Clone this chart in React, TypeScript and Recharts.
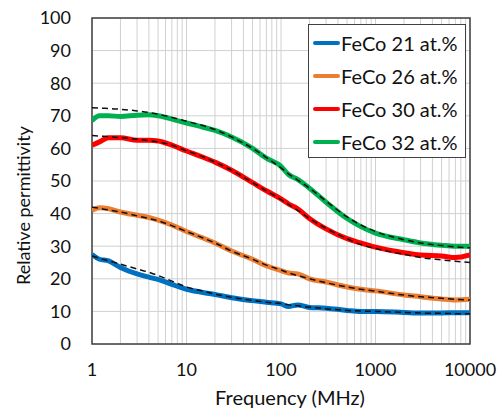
import {
  LineChart,
  Line,
  XAxis,
  YAxis,
  CartesianGrid,
  ReferenceArea,
} from "recharts";

const FONT = "Lato, 'Open Sans', sans-serif";

// frequency (MHz)
const freq = [
  1, 1.2, 1.5, 2, 3, 4, 5, 7, 10, 15, 20, 30, 50, 70, 100, 120, 150, 200, 300,
  500, 700, 1000, 2000, 3000, 5000, 7000, 10000,
];

// measured
const feco21 = [27.5, 26, 25.5, 23.5, 21.5, 20.5, 19.8, 18.3, 16.8, 15.8, 15.2, 14.2, 13.3, 12.8, 12.3, 11.5, 12, 11.2, 11, 10.3, 10, 10, 9.7, 9.5, 9.5, 9.6, 9.6];
const feco26 = [41, 41.8, 41.5, 40.5, 39.5, 38.8, 38, 36.5, 34.5, 32.5, 31, 28.5, 26, 24, 22.5, 21.8, 21.5, 20, 19, 17.5, 16.8, 16.3, 15, 14.5, 13.8, 13.5, 13.7];
const feco30 = [61, 62, 63.3, 63.3, 62.5, 62.5, 62.3, 61, 59.2, 57.3, 55.8, 53.3, 49.5, 47, 44.5, 43, 41.5, 38.5, 35.3, 32.3, 31, 29.7, 28, 27.3, 27, 26.5, 27.3];
const feco32 = [68.5, 70, 70, 69.8, 70.2, 70.3, 70, 69, 67.8, 66.5, 65.5, 63.5, 60, 57, 54.5, 52, 50.5, 47.8, 43.5, 38.5, 36, 34, 32, 31, 30.3, 30, 30];

// fitted (dashed)
const fit21 = [27, 26.3, 25.5, 24.5, 23, 22, 21, 19.3, 17.5, 16.2, 15.3, 14.3, 13.4, 12.8, 12.4, 12, 11.7, 11.3, 10.8, 10.3, 10.1, 10, 9.7, 9.5, 9.4, 9.3, 9.3];
const fit26 = [42, 41.6, 41.1, 40.5, 39.3, 38.5, 37.8, 36.3, 34.5, 32.5, 31, 28.5, 26, 24.2, 22.7, 21.8, 21, 20, 18.8, 17.5, 16.8, 16.2, 15, 14.5, 14, 13.7, 13.5];
const fit30 = [64, 63.8, 63.6, 63.3, 62.8, 62.4, 62, 61, 59.3, 57.4, 55.8, 53.3, 49.5, 47, 44.3, 42.8, 41, 38.5, 35.5, 32.3, 30.5, 29.3, 27.5, 26.5, 25.8, 25.4, 25];
const fit32 = [72.5, 72.4, 72.2, 72, 71.5, 71, 70.5, 69.5, 68.3, 67, 65.8, 63.5, 60, 57.2, 54, 52.2, 50.3, 47.8, 43.8, 39, 36.5, 34.5, 32, 31, 30.2, 29.8, 29.5];

const series = [
  { key: "s21", name: "FeCo 21 at.%", color: "#0070C0", values: feco21, fit: fit21 },
  { key: "s26", name: "FeCo 26 at.%", color: "#ED7D31", values: feco26, fit: fit26 },
  { key: "s30", name: "FeCo 30 at.%", color: "#FF0000", values: feco30, fit: fit30 },
  { key: "s32", name: "FeCo 32 at.%", color: "#00B050", values: feco32, fit: fit32 },
];

const decades = [1, 10, 100, 1000, 10000];
const xTicks = [
  1, 2, 3, 4, 5, 6, 7, 8, 9, 10, 20, 30, 40, 50, 60, 70, 80, 90, 100, 200, 300,
  400, 500, 600, 700, 800, 900, 1000, 2000, 3000, 4000, 5000, 6000, 7000, 8000,
  9000, 10000,
];
const yTicks = [0, 10, 20, 30, 40, 50, 60, 70, 80, 90, 100];

const data = freq.map((f, i) => {
  const row: Record<string, number> = { f };
  series.forEach((s) => {
    row[s.key] = s.values[i];
    row[s.key + "fit"] = s.fit[i];
  });
  return row;
});

function LegendBox() {
  return (
    <div
      style={{
        position: "absolute",
        top: 24,
        left: 308,
        width: 158,
        height: 134,
        border: "1.5px solid #404040",
        background: "#fff",
        fontFamily: FONT,
        fontSize: 20,
        color: "#111",
        boxSizing: "border-box",
        paddingTop: 1,
        whiteSpace: "nowrap",
      }}
    >
      {series.map((s) => (
        <div
          key={s.key}
          style={{ display: "flex", alignItems: "center", height: 33, paddingLeft: 4 }}
        >
          <div
            style={{ width: 27, height: 4, background: s.color, borderRadius: 2, marginRight: 1 }}
          />
          <span>{s.name}</span>
        </div>
      ))}
    </div>
  );
}

export default function App() {
  return (
    <div style={{ position: "fixed", top: 0, left: 0, background: "#fff" }}>
      <LineChart
        width={504}
        height={410}
        data={data}
        margin={{ top: 18, right: 34, bottom: 0, left: 0 }}
      >
        <CartesianGrid stroke="#d0d0d0" strokeWidth={1} />
        <XAxis
          dataKey="f"
          type="number"
          scale="log"
          domain={[1, 10000]}
          ticks={xTicks}
          interval={0}
          allowDataOverflow
          height={66}
          axisLine={false}
          tickLine={false}
          tickSize={0}
          tickMargin={19}
          tick={{ fontFamily: FONT, fontSize: 18, fill: "#111" }}
          tickFormatter={(v: number) => (decades.includes(v) ? String(v) : "")}
          label={{
            value: "Frequency (MHz)",
            position: "insideBottom",
            offset: 5,
            dx: 9,
            style: { fontFamily: FONT, fontSize: 20, fill: "#111" },
          }}
        />
        <YAxis
          domain={[0, 100]}
          ticks={yTicks}
          interval={0}
          width={92}
          axisLine={false}
          tickLine={false}
          tickSize={0}
          tickMargin={21}
          tick={{ fontFamily: FONT, fontSize: 18, fill: "#111" }}
          label={{
            value: "Relative permittivity",
            angle: -90,
            position: "insideLeft",
            offset: 24,
            dy: 104,
            style: { fontFamily: FONT, fontSize: 18, fill: "#111" },
          }}
        />
        <ReferenceArea
          x1={1}
          x2={10000}
          y1={0}
          y2={100}
          fill="none"
          stroke="#404040"
          strokeWidth={1.5}
          ifOverflow="visible"
        />
        {series.map((s) => (
          <Line
            key={s.key}
            dataKey={s.key}
            name={s.name}
            stroke={s.color}
            strokeWidth={5}
            dot={false}
            type="monotone"
            isAnimationActive={false}
          />
        ))}
        {series.map((s) => (
          <Line
            key={s.key + "fit"}
            dataKey={s.key + "fit"}
            stroke="#111"
            strokeWidth={1.5}
            strokeDasharray="6 4"
            dot={false}
            type="monotone"
            isAnimationActive={false}
          />
        ))}
      </LineChart>
      <LegendBox />
    </div>
  );
}
